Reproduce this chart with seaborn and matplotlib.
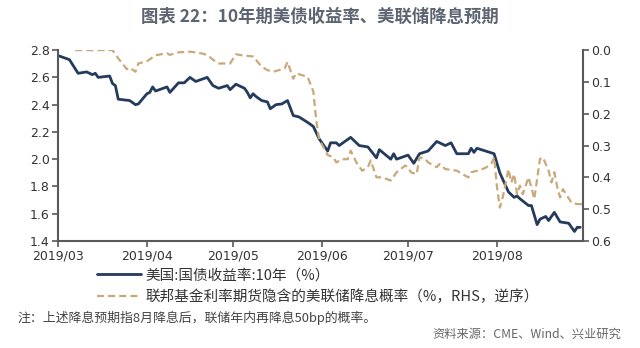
import matplotlib
matplotlib.use("Agg")
import matplotlib.pyplot as plt
import matplotlib.dates as mdates
import seaborn as sns
import pandas as pd

# ---- data ----
yield_dates = ["2019-03-01","2019-03-05","2019-03-08","2019-03-11","2019-03-13","2019-03-14","2019-03-15",
               "2019-03-19","2019-03-20","2019-03-21","2019-03-22","2019-03-26","2019-03-28","2019-03-29",
               "2019-04-01","2019-04-02","2019-04-03","2019-04-04","2019-04-08","2019-04-09","2019-04-12",
               "2019-04-14","2019-04-16","2019-04-18","2019-04-22","2019-04-24","2019-04-26","2019-04-29",
               "2019-04-30","2019-05-02","2019-05-05","2019-05-06","2019-05-07","2019-05-08","2019-05-09",
               "2019-05-11","2019-05-13","2019-05-14","2019-05-16","2019-05-18","2019-05-20","2019-05-22",
               "2019-05-24","2019-05-27","2019-05-29","2019-05-31","2019-06-03","2019-06-04","2019-06-06",
               "2019-06-07","2019-06-11","2019-06-14","2019-06-17","2019-06-20","2019-06-21","2019-06-25",
               "2019-06-26","2019-06-27","2019-07-01","2019-07-03","2019-07-05","2019-07-08","2019-07-11",
               "2019-07-14","2019-07-16","2019-07-18","2019-07-22","2019-07-23","2019-07-24","2019-07-25",
               "2019-07-28","2019-07-31","2019-08-02","2019-08-05","2019-08-07","2019-08-08","2019-08-09",
               "2019-08-12","2019-08-13","2019-08-15","2019-08-16","2019-08-18","2019-08-19","2019-08-21",
               "2019-08-23","2019-08-26","2019-08-28","2019-08-29","2019-08-30"]
yield_values = [2.76,2.73,2.63,2.64,2.62,2.63,2.60,
                2.61,2.555,2.54,2.44,2.43,2.40,2.405,
                2.48,2.49,2.53,2.50,2.53,2.49,2.56,
                2.56,2.60,2.57,2.60,2.54,2.52,2.54,
                2.51,2.55,2.52,2.49,2.45,2.48,2.46,
                2.43,2.42,2.37,2.40,2.405,2.43,2.32,
                2.31,2.27,2.24,2.15,2.06,2.12,2.12,
                2.10,2.16,2.10,2.09,2.01,2.07,2.00,
                2.04,2.00,2.03,1.97,2.04,2.06,2.13,
                2.10,2.12,2.04,2.04,2.08,2.05,2.08,
                2.06,2.04,1.90,1.76,1.72,1.73,1.71,
                1.66,1.66,1.52,1.56,1.58,1.55,1.61,
                1.54,1.53,1.47,1.50,1.50]

prob_dates = ["2019-03-07","2019-03-20","2019-03-22","2019-03-25","2019-03-26","2019-03-28","2019-03-29",
              "2019-04-01","2019-04-04","2019-04-08","2019-04-09","2019-04-12","2019-04-16","2019-04-19",
              "2019-04-22","2019-04-24","2019-04-26","2019-04-30","2019-05-02","2019-05-04","2019-05-08",
              "2019-05-11","2019-05-13","2019-05-15","2019-05-19","2019-05-20","2019-05-22","2019-05-23",
              "2019-05-27","2019-05-29","2019-05-30","2019-05-31","2019-06-03","2019-06-05","2019-06-06",
              "2019-06-08","2019-06-10","2019-06-11","2019-06-13","2019-06-15","2019-06-17","2019-06-18",
              "2019-06-20","2019-06-22","2019-06-25","2019-06-27","2019-06-30","2019-07-01","2019-07-02",
              "2019-07-04","2019-07-05","2019-07-07","2019-07-08","2019-07-11","2019-07-12","2019-07-14",
              "2019-07-18","2019-07-21","2019-07-22","2019-07-23","2019-07-26","2019-07-28","2019-07-30",
              "2019-07-31","2019-08-01","2019-08-02","2019-08-03","2019-08-04","2019-08-05","2019-08-06",
              "2019-08-07","2019-08-08","2019-08-09","2019-08-10","2019-08-12","2019-08-13","2019-08-14",
              "2019-08-16","2019-08-17","2019-08-19","2019-08-20","2019-08-21","2019-08-22","2019-08-23",
              "2019-08-24","2019-08-27","2019-08-29","2019-08-31"]
prob_values = [0.0,0.0,0.026,0.06,0.055,0.068,0.042,
               0.035,0.016,0.01,0.015,0.007,0.005,0.008,
               0.015,0.03,0.042,0.042,0.013,0.016,0.02,
               0.052,0.063,0.068,0.058,0.037,0.09,0.073,
               0.084,0.13,0.22,0.28,0.33,0.337,0.353,
               0.343,0.343,0.316,0.353,0.379,0.368,0.347,
               0.40,0.40,0.41,0.384,0.363,0.368,0.384,
               0.39,0.337,0.342,0.353,0.368,0.358,0.374,
               0.379,0.395,0.40,0.384,0.377,0.37,0.358,
               0.337,0.43,0.495,0.463,0.42,0.374,0.416,
               0.39,0.453,0.426,0.453,0.40,0.432,0.468,
               0.342,0.337,0.379,0.416,0.384,0.43,0.463,
               0.437,0.48,0.484,0.484]

left_ticks = [1.4, 1.6, 1.8, 2.0, 2.2, 2.4, 2.6, 2.8]
right_ticks = [0.0, 0.1, 0.2, 0.3, 0.4, 0.5, 0.6]
month_ticks = ["2019-03-01","2019-04-01","2019-05-01","2019-06-01","2019-07-01","2019-08-01"]

title = "图表 22：10年期美债收益率、美联储降息预期"
label_yield = "美国:国债收益率:10年（%）"
label_prob = "联邦基金利率期货隐含的美联储降息概率（%，RHS，逆序）"
note = "注：上述降息预期指8月降息后，联储年内再降息50bp的概率。"
source = "资料来源：CME、Wind、兴业研究"

df_y = pd.DataFrame({"date": pd.to_datetime(yield_dates), "v": yield_values})
df_p = pd.DataFrame({"date": pd.to_datetime(prob_dates), "v": prob_values})

sns.set_theme(style="white")
CJK = ["Noto Sans CJK SC", "DejaVu Sans"]
plt.rcParams["font.family"] = CJK

navy = "#243b5c"
tan = "#c9a97a"
spine_c = "#595959"
text_c = "#333333"

fig = plt.figure(figsize=(6.4, 3.48), dpi=100)
ax = fig.add_axes([0.0906, 0.3075, 0.8204, 0.5485])
ax2 = ax.twinx()

sns.lineplot(data=df_y, x="date", y="v", ax=ax, color=navy, linewidth=2.0, label=label_yield, legend=False)
sns.lineplot(data=df_p, x="date", y="v", ax=ax2, color=tan, linewidth=1.6, label=label_prob, legend=False)
ax2.lines[0].set_dashes([3.2, 1.8])

ax.set_ylim(1.4, 2.8)
ax.set_yticks(left_ticks)
ax.set_yticklabels([f"{t:.1f}" for t in left_ticks])
ax2.set_ylim(0.6, 0.0)
ax2.set_yticks(right_ticks)
ax2.set_yticklabels([f"{t:.1f}" for t in right_ticks])

ax.set_xlim(pd.Timestamp("2019-03-01"), pd.Timestamp("2019-08-31"))
ax.set_xticks(pd.to_datetime(month_ticks))
ax.xaxis.set_major_formatter(mdates.DateFormatter("%Y/%m"))
ax.set_xlabel("")
ax.set_ylabel("")
ax2.set_ylabel("")

for a in (ax, ax2):
    a.spines["top"].set_visible(False)
    for s in ["left", "right", "bottom"]:
        a.spines[s].set_color(spine_c)
        a.spines[s].set_linewidth(1.5)
ax.spines["right"].set_visible(False)
ax2.spines["left"].set_visible(False)
ax2.spines["bottom"].set_visible(False)

ax.tick_params(axis="both", which="major", direction="out", length=4, width=1.2,
               color=spine_c, labelsize=9, labelcolor=text_c, left=True, bottom=True, pad=2)
ax2.tick_params(axis="y", direction="out", length=4, width=1.2, color=spine_c,
                labelsize=9, labelcolor=text_c, right=True, pad=2)
for lbl in ax.get_xticklabels() + ax.get_yticklabels() + ax2.get_yticklabels():
    lbl.set_family(["DejaVu Sans"])

fig.text(0.5, 0.952, title, ha="center", va="center", fontsize=12.5, fontweight="bold",
         color="#5b6470", family=CJK)

h1, l1 = ax.get_legend_handles_labels()
h2, l2 = ax2.get_legend_handles_labels()
leg = fig.legend(h1 + h2, l1 + l2, loc="center", bbox_to_anchor=(0.497, 0.178), ncol=1,
                 frameon=False, handlelength=3.0, handletextpad=0.35,
                 labelspacing=0.45, prop={"family": CJK, "size": 10.5})
for t in leg.get_texts():
    t.set_color(text_c)
leg._legend_box.align = "left"

fig.text(0.028, 0.087, note, ha="left", va="center", fontsize=9.3, color="#444444", family=CJK)
fig.text(0.970, 0.040, source, ha="right", va="center", fontsize=8.8, color="#666666", family=CJK)

fig.savefig("out.png", dpi=100)
